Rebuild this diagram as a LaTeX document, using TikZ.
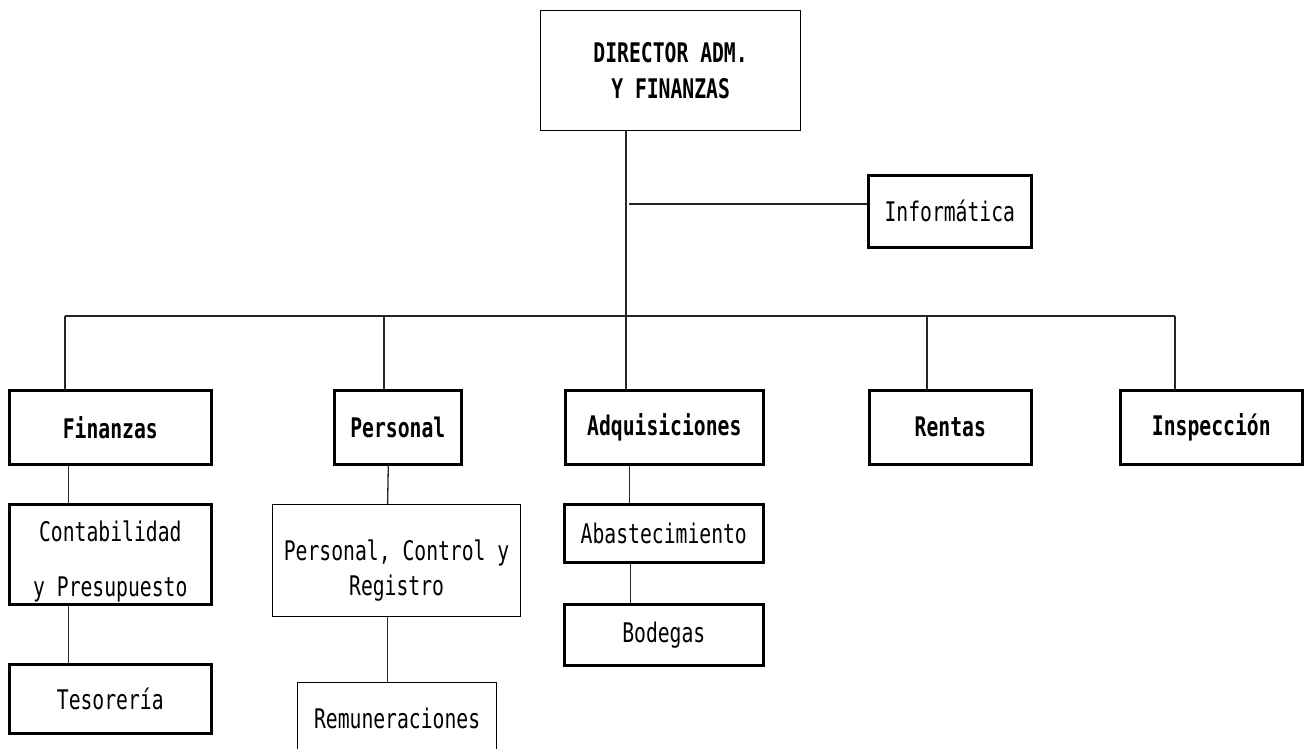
\documentclass[tikz,border=0pt]{standalone}
\usepackage{fontspec}
\setmonofont{DejaVu Sans Mono}[FakeStretch=0.73]
\begin{document}
\begin{tikzpicture}[x=1pt,y=-1pt,
  every node/.style={font=\ttfamily\fontsize{27}{30}\selectfont, inner sep=0pt},
  thinbox/.style={draw, line width=1.2pt, anchor=north west},
  thickbox/.style={draw, line width=2.6pt, anchor=north west},
  boldtext/.style={font=\ttfamily\bfseries\fontsize{27}{30}\selectfont},
  conn/.style={line width=1.3pt, draw=black!85}]
\useasboundingbox (0,0) rectangle (1304,749);
\clip (0,0) rectangle (1304,749);

% top
\node[thinbox, minimum width=260pt, minimum height=120pt, align=center,
      font=\ttfamily\bfseries\fontsize{27}{36}\selectfont] (dir) at (540,10) {DIRECTOR ADM.\\Y FINANZAS};
\node[thickbox, minimum width=163pt, minimum height=72pt] (inf) at (867,174) {Informática};

% second level
\node[thickbox, boldtext, minimum width=202pt, minimum height=74pt] (fin) at (8,389) {Finanzas};
\node[thickbox, boldtext, minimum width=127pt, minimum height=74pt] (per) at (333,389) {Personal};
\node[thickbox, boldtext, minimum width=198pt, minimum height=74pt] (adq) at (564,389) {Adquisiciones};
\node[thickbox, boldtext, minimum width=162pt, minimum height=74pt] (ren) at (868,389) {Rentas};
\node[thickbox, boldtext, minimum width=182pt, minimum height=74pt] (ins) at (1119,389) {Inspección};

% third level
\node[thickbox, minimum width=202pt, minimum height=100pt,
      label={[name=conT, align=center, yshift=-7.5pt, font=\ttfamily\fontsize{27}{55}\selectfont]center:Contabilidad\\y Presupuesto}] (con) at (8,503) {};
\node[thickbox, minimum width=202pt, minimum height=69pt] (tes) at (8,663) {Tesorería};

\node[thinbox, minimum width=248pt, minimum height=112pt,
      label={[name=pcrT, align=center, yshift=-9.5pt, font=\ttfamily\fontsize{27}{35}\selectfont]center:Personal{,} Control y\\Registro}] (pcr) at (272,504) {};
\node[thinbox, minimum width=199pt, minimum height=72pt] (rem) at (297,682) {Remuneraciones};

\node[thickbox, minimum width=199pt, minimum height=58pt] (aba) at (563,503) {Abastecimiento};
\node[thickbox, minimum width=199pt, minimum height=61pt] (bod) at (563,603) {Bodegas};

% connectors
\coordinate (j) at (626,316);
\coordinate (ib) at (629,204);
\coordinate (b1) at (65,316);
\coordinate (b2) at (384,316);
\coordinate (b4) at (927,316);
\coordinate (b5) at (1175,316);

\draw[conn] (dir.south -| j) -- (j);
\draw[conn] (ib) -- (ib -| inf.west);
\draw[conn] (b1) -- (b5);
\draw[conn] (b1) -- (b1 |- fin.north);
\draw[conn] (b2) -- (b2 |- per.north);
\draw[conn] (j) -- (j |- adq.north);
\draw[conn] (b4) -- (b4 |- ren.north);
\draw[conn] (b5) -- (b5 |- ins.north);

\draw[conn] ([xshift=-42pt]fin.south) -- ([xshift=-42pt]con.north);
\draw[conn] ([xshift=-42pt]con.south) -- ([xshift=-42pt]tes.north);
\draw[conn] ([xshift=-9.5pt]per.south) -- ([xshift=-9pt]pcr.north);
\draw[conn] ([xshift=-9pt]pcr.south) -- ([xshift=-9.5pt]rem.north);
\draw[conn] ([xshift=-35pt]adq.south) -- ([xshift=-34.5pt]aba.north);
\draw[conn] ([xshift=-33.5pt]aba.south) -- ([xshift=-33.5pt]bod.north);
\end{tikzpicture}
\end{document}
